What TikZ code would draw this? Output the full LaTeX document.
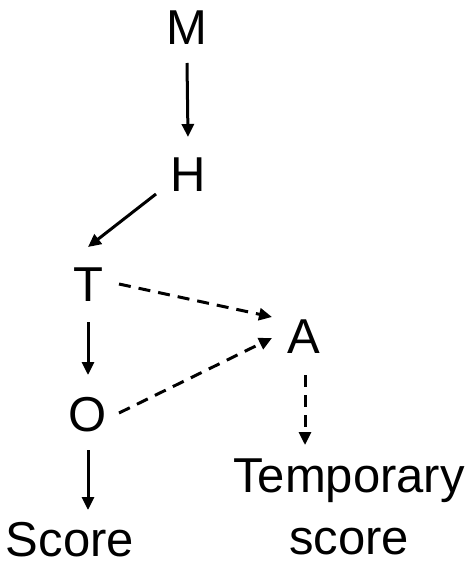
\documentclass[tikz,border=0pt]{standalone}
\usepackage{fontspec}
\setmainfont{Liberation Sans}
\usetikzlibrary{arrows.meta, calc}

\begin{document}
\begin{tikzpicture}[
        x=1pt, y=-1pt,
        lbl/.style={inner sep=0pt, font=\fontsize{49}{62}\selectfont, align=center},
        arr/.style={-{Triangle[length=13pt, width=12pt]}, line width=3pt},
        darr/.style={arr, dash pattern=on 12pt off 8pt}
    ]
        \useasboundingbox (0,0) rectangle (468,564);

        \node[lbl] (M) at (187,28) {M};
        \node[lbl] (H) at (188,175) {H};
        \node[lbl] (T) at (88,285) {T};
        \node[lbl] (A) at (304,337) {A};
        \node[lbl] (O) at (88,415) {O};
        \node[lbl] (score) at (70,540) {Score};
        \node[lbl] (tmpscore) at (349,507) {Temporary\\score};

        \draw[arr] ([shift={(0,35)}]M.center) -- ([shift={(0,-38)}]H.center);
        \draw[arr] ([shift={(-32,19)}]H.center) -- ([shift={(0,-38)}]T.center);
        \draw[arr] ([shift={(0,37)}]T.center) -- ([shift={(0,-40)}]O.center);
        \draw[arr] ([shift={(0,35)}]O.center) -- ($(O |- score.center)+(0,-30)$);

        \draw[darr] ([shift={(31,-1)}]T.center) -- ([shift={(-32,-20)}]A.center);
        \draw[darr] ([shift={(31,-2)}]O.center) -- ([shift={(-32,1)}]A.center);
        \draw[darr] ([shift={(1,38)}]A.center) -- ($(A |- tmpscore.center)+(1,-62)$);
    \end{tikzpicture}
\end{document}
